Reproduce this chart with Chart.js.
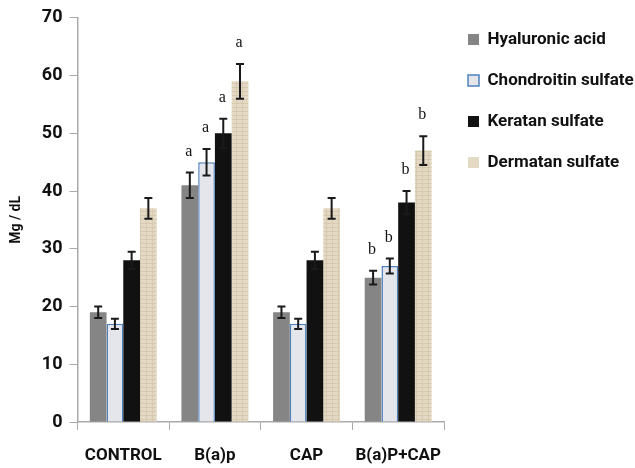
<!DOCTYPE html>
<html>
<head>
<meta charset="utf-8">
<script src="https://cdn.jsdelivr.net/npm/chart.js@4.4.0/dist/chart.umd.min.js"></script>
<style>
  html, body { margin: 0; padding: 0; background: #fff; }
  canvas { display: block; }
</style>
</head>
<body>
<canvas id="gagChart" width="635" height="468"></canvas>
<script>
// Groups and glycosaminoglycan levels (Mg / dL)
const groups = ['CONTROL', 'B(a)p', 'CAP', 'B(a)P+CAP'];
const hyaluronic = [19, 41, 19, 25];
const chondroitin = [17, 45, 17, 27];
const keratan = [28, 50, 28, 38];
const dermatan = [37, 59, 37, 47];

// standard error (half height of the error bar)
const hyaluronicErr = [1, 2.2, 1, 1.2];
const chondroitinErr = [0.9, 2.3, 0.9, 1.3];
const keratanErr = [1.5, 2.5, 1.5, 2];
const dermatanErr = [1.8, 3, 1.8, 2.5];

// significance letters per group
const hyaluronicSig = ['', 'a', '', 'b'];
const chondroitinSig = ['', 'a', '', 'b'];
const keratanSig = ['', 'a', '', 'b'];
const dermatanSig = ['', 'a', '', 'b'];

const yTicks = [0, 10, 20, 30, 40, 50, 60, 70];

const boldFont = "Roboto, 'DejaVu Sans', sans-serif";

// small paper-like texture for the dermatan bars
function makePattern(base, line) {
  const c = document.createElement('canvas');
  c.width = 6; c.height = 4;
  const g = c.getContext('2d');
  g.fillStyle = base;
  g.fillRect(0, 0, 6, 4);
  g.fillStyle = line;
  g.fillRect(0, 3, 6, 1);
  g.fillRect(2, 0, 1, 4);
  return g.createPattern(c, 'repeat');
}

// Error bars + letters drawn from the dataset values
const errorBarPlugin = {
  id: 'errorBars',
  afterDatasetsDraw(chart) {
    const ctx = chart.ctx;
    const yScale = chart.scales.y;
    chart.data.datasets.forEach((ds, i) => {
      const meta = chart.getDatasetMeta(i);
      meta.data.forEach((bar, j) => {
        const v = ds.data[j];
        const e = ds.errors[j];
        const top = yScale.getPixelForValue(v + e);
        const bottom = yScale.getPixelForValue(v - e);
        const x = bar.x;
        ctx.save();
        ctx.strokeStyle = '#1a1a1a';
        ctx.lineWidth = 2;
        ctx.beginPath();
        ctx.moveTo(x, top); ctx.lineTo(x, bottom);
        ctx.moveTo(x - 4, top); ctx.lineTo(x + 4, top);
        ctx.moveTo(x - 4, bottom); ctx.lineTo(x + 4, bottom);
        ctx.stroke();
        const sig = ds.sig[j];
        if (sig) {
          ctx.fillStyle = '#111';
          ctx.font = "16px 'Liberation Serif', 'DejaVu Serif', serif";
          ctx.textAlign = 'center';
          ctx.textBaseline = 'alphabetic';
          ctx.fillText(sig, x - 1, top - 17);
        }
        ctx.restore();
      });
    });
  }
};

function drawChart() {
  const ctx = document.getElementById('gagChart').getContext('2d');
  const dermatanFill = makePattern('#e4d9c5', '#d6c9ae');

  new Chart(ctx, {
    type: 'bar',
    data: {
      labels: groups,
      datasets: [
        { label: 'Hyaluronic acid', data: hyaluronic, errors: hyaluronicErr, sig: hyaluronicSig,
          backgroundColor: '#858585', borderWidth: 0 },
        { label: 'Chondroitin sulfate', data: chondroitin, errors: chondroitinErr, sig: chondroitinSig,
          backgroundColor: '#e4e6ec', borderColor: '#4f81bd', borderWidth: 1.5, borderSkipped: 'bottom' },
        { label: 'Keratan sulfate', data: keratan, errors: keratanErr, sig: keratanSig,
          backgroundColor: '#111111', borderWidth: 0 },
        { label: 'Dermatan sulfate', data: dermatan, errors: dermatanErr, sig: dermatanSig,
          backgroundColor: dermatanFill, borderWidth: 0 }
      ]
    },
    options: {
      responsive: false,
      animation: false,
      datasets: {
        bar: { categoryPercentage: 0.73, barPercentage: 1.0 }
      },
      layout: { padding: { top: 7, left: 8, right: 0, bottom: 0 } },
      plugins: {
        tooltip: { enabled: false },
        legend: {
          position: 'right',
          align: 'start',
          maxWidth: 191,
          labels: {
            boxWidth: 11,
            boxHeight: 11,
            padding: 24,
            color: '#111',
            font: { family: boldFont, size: 17, weight: 'bold' },
            generateLabels(chart) {
              // plain colour swatches (pattern would look odd at 11px)
              const items = Chart.defaults.plugins.legend.labels.generateLabels(chart);
              items[3].fillStyle = '#e4d9c5';
              items.forEach(it => { it.lineWidth = it.datasetIndex === 1 ? 1.5 : 0; });
              return items;
            }
          }
        }
      },
      scales: {
        x: {
          afterFit(scale) { scale.height = 46; },
          grid: { drawOnChartArea: false, color: '#aaa', tickLength: 8, offset: true },
          border: { color: '#aaa', width: 1.5 },
          ticks: {
            color: '#111',
            padding: 16,
            maxRotation: 0,
            font: { family: boldFont, size: 17, weight: 'bold' }
          }
        },
        y: {
          min: 0,
          max: 70,
          afterBuildTicks(axis) { axis.ticks = yTicks.map(v => ({ value: v })); },
          grid: { drawOnChartArea: false, color: '#aaa', tickLength: 8 },
          border: { color: '#aaa', width: 1.5 },
          ticks: {
            color: '#111',
            padding: 7,
            font: { family: boldFont, size: 18, weight: 'bold' }
          },
          title: {
            display: true,
            text: 'Mg / dL',
            color: '#111',
            font: { family: boldFont, size: 14, weight: 'bold' },
            padding: { top: 0, bottom: 10 }
          }
        }
      }
    },
    plugins: [errorBarPlugin]
  });
}

// wait for the bold font so legend widths are measured right
Promise.all([
  document.fonts.load("bold 17px Roboto"),
  document.fonts.load("16px 'Liberation Serif'")
]).then(drawChart, drawChart);
</script>
</body>
</html>
